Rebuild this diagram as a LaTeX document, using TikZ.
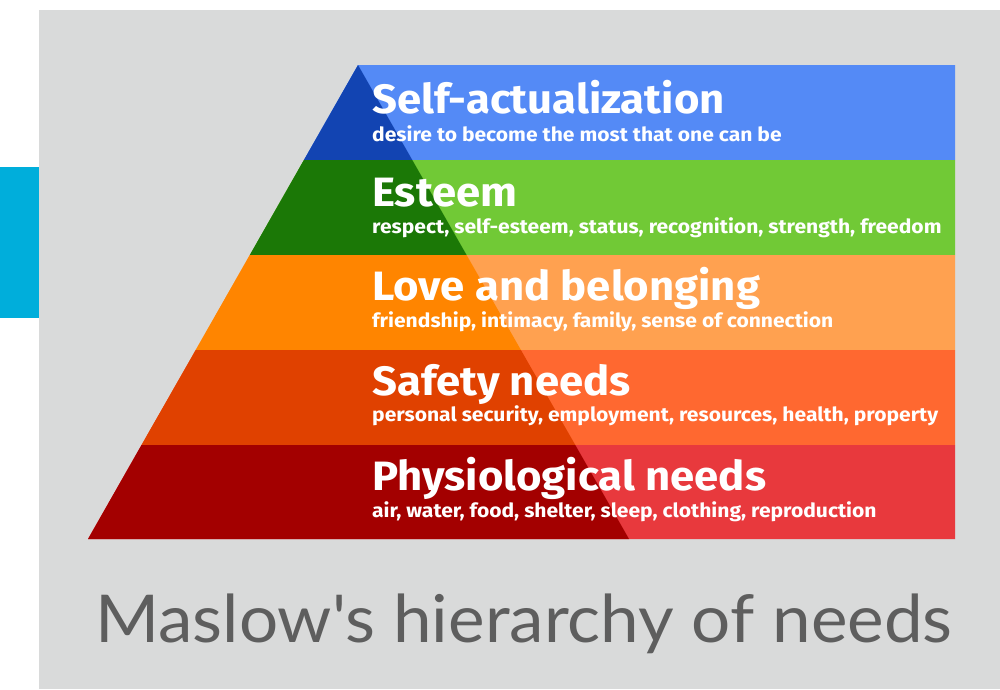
\documentclass[tikz,border=0pt]{standalone}
\usepackage{fontspec}
\newfontfamily\hfont{Fira Sans}
\newfontfamily\tfont{Lato}
\definecolor{bgc}{HTML}{D9DADA}
\definecolor{cyanbar}{HTML}{00AEDB}
\definecolor{blueL}{HTML}{548AF6}
\definecolor{blueD}{HTML}{1244B2}
\definecolor{greenL}{HTML}{71C936}
\definecolor{greenD}{HTML}{1B7806}
\definecolor{orangeL}{HTML}{FFA150}
\definecolor{orangeD}{HTML}{FF8500}
\definecolor{safeL}{HTML}{FF6830}
\definecolor{safeD}{HTML}{E04100}
\definecolor{redL}{HTML}{E8393D}
\definecolor{redD}{HTML}{A30000}
\definecolor{titlec}{HTML}{5E5E5E}
\newcommand{\headtxt}[1]{\scalebox{1.065}[1]{#1}}
\newcommand{\subtxt}[1]{\scalebox{1.08}[1]{#1}}
\tikzset{
  head/.style={anchor=base west, inner sep=0pt, text=white, font=\hfont\bfseries\fontsize{41}{41}\selectfont},
  sub/.style={anchor=base west, inner sep=0pt, text=white, font=\hfont\bfseries\fontsize{19.5}{19.5}\selectfont},
}
\begin{document}
\begin{tikzpicture}[x=1pt,y=-1pt]
\useasboundingbox (0,0) rectangle (1000,689);
\fill[white] (0,0) rectangle (1000,689);
\fill[bgc] (39,10) rectangle (1000,689);
\fill[cyanbar] (0,167) rectangle (39,318);
% light bands
\fill[blueL]   (358,65)    -- (955,65)  -- (955,160) -- (303.9,160) -- cycle;
\fill[greenL]  (303.9,160) -- (955,160) -- (955,255) -- (249.8,255) -- cycle;
\fill[orangeL] (249.8,255) -- (955,255) -- (955,350) -- (195.7,350) -- cycle;
\fill[safeL]   (195.7,350) -- (955,350) -- (955,445) -- (141.5,445) -- cycle;
\fill[redL]    (141.5,445) -- (955,445) -- (955,539) -- (88,539) -- cycle;
% dark triangle parts
\fill[blueD]   (358,65)    -- (412.3,160) -- (303.9,160) -- cycle;
\fill[greenD]  (303.9,160) -- (412.3,160) -- (466.6,255) -- (249.8,255) -- cycle;
\fill[orangeD] (249.8,255) -- (466.6,255) -- (520.9,350) -- (195.7,350) -- cycle;
\fill[safeD]   (195.7,350) -- (520.9,350) -- (575.3,445) -- (141.5,445) -- cycle;
\fill[redD]    (141.5,445) -- (575.3,445) -- (629,539) -- (88,539) -- cycle;
% texts
\node[head] (h1) at (372,113) {\headtxt{Self-actualization}};
\node[sub]  (s1) at (372,141) {\subtxt{desire to become the most that one can be}};
\node[head] (h2) at (372,206) {\headtxt{Esteem}};
\node[sub]  (s2) at (372,233) {\subtxt{respect, self-esteem, status, recognition, strength, freedom}};
\node[head] (h3) at (372,300) {\headtxt{Love and belonging}};
\node[sub]  (s3) at (372,327) {\subtxt{friendship, intimacy, family, sense of connection}};
\node[head] (h4) at (372,395) {\headtxt{Safety needs}};
\node[sub]  (s4) at (372,421) {\subtxt{personal security, employment, resources, health, property}};
\node[head] (h5) at (372,490) {\headtxt{Physiological needs}};
\node[sub]  (s5) at (372,517) {\subtxt{air, water, food, shelter, sleep, clothing, reproduction}};
\node[anchor=base west, inner sep=0pt, text=titlec, font=\tfont\fontsize{66}{66}\selectfont] (title) at (95,642) {\scalebox{1.048}[1]{Maslow's hierarchy of needs}};
\end{tikzpicture}
\end{document}
